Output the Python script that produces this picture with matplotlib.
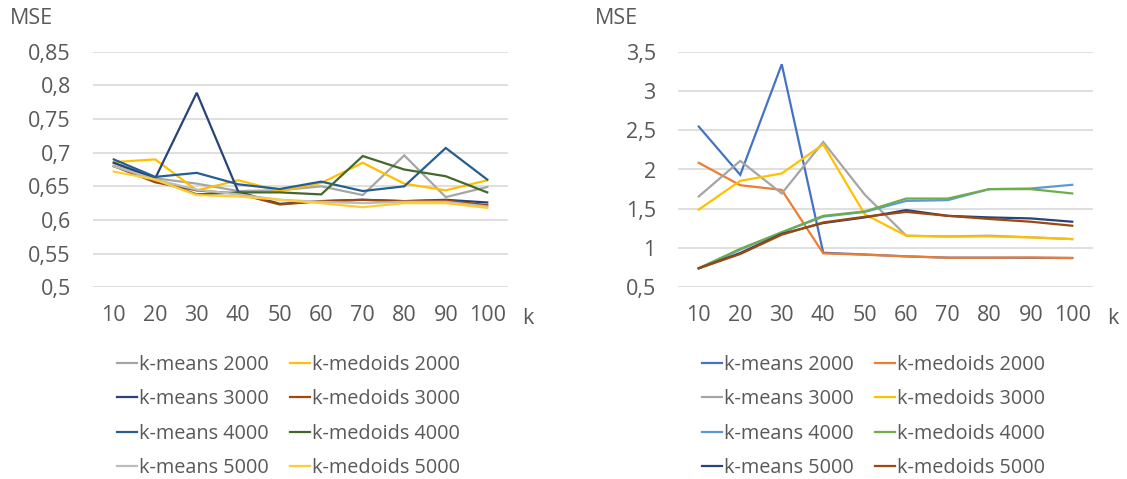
import matplotlib
matplotlib.use("Agg")
import matplotlib.pyplot as plt

plt.rcParams['font.family'] = ['Open Sans', 'DejaVu Sans']

k_values = [10, 20, 30, 40, 50, 60, 70, 80, 90, 100]
k_labels = [str(k) for k in k_values]

# Left panel: MSE per k
left_means_2000 = [0.685, 0.662, 0.654, 0.643, 0.644, 0.650, 0.637, 0.696, 0.634, 0.649]
left_medoids_2000 = [0.686, 0.690, 0.644, 0.659, 0.643, 0.655, 0.685, 0.654, 0.644, 0.659]
left_means_3000 = [0.685, 0.662, 0.789, 0.642, 0.624, 0.628, 0.630, 0.628, 0.630, 0.626]
left_medoids_3000 = [0.680, 0.656, 0.644, 0.639, 0.623, 0.628, 0.630, 0.628, 0.629, 0.622]
left_means_4000 = [0.690, 0.664, 0.670, 0.653, 0.646, 0.657, 0.643, 0.650, 0.707, 0.660]
left_medoids_4000 = [0.680, 0.660, 0.638, 0.641, 0.641, 0.638, 0.695, 0.675, 0.665, 0.641]
left_means_5000 = [0.680, 0.660, 0.645, 0.638, 0.630, 0.627, 0.625, 0.627, 0.627, 0.620]
left_medoids_5000 = [0.672, 0.660, 0.637, 0.635, 0.630, 0.625, 0.619, 0.625, 0.625, 0.618]

# Right panel: MSE per k
right_means_2000 = [2.547, 1.932, 3.340, 0.940, 0.918, 0.894, 0.877, 0.877, 0.875, 0.873]
right_medoids_2000 = [2.085, 1.800, 1.740, 0.932, 0.915, 0.894, 0.877, 0.877, 0.880, 0.873]
right_means_3000 = [1.657, 2.110, 1.695, 2.350, 1.680, 1.157, 1.148, 1.157, 1.136, 1.114]
right_medoids_3000 = [1.490, 1.856, 1.950, 2.320, 1.430, 1.157, 1.144, 1.148, 1.136, 1.114]
right_means_4000 = [0.742, 0.980, 1.200, 1.400, 1.460, 1.600, 1.610, 1.750, 1.758, 1.805]
right_medoids_4000 = [0.742, 0.990, 1.200, 1.410, 1.466, 1.630, 1.630, 1.750, 1.750, 1.695]
right_means_5000 = [0.742, 0.937, 1.180, 1.318, 1.390, 1.483, 1.410, 1.390, 1.377, 1.335]
right_medoids_5000 = [0.742, 0.924, 1.170, 1.326, 1.398, 1.460, 1.410, 1.370, 1.335, 1.284]

series_names = ["k-means 2000", "k-medoids 2000", "k-means 3000", "k-medoids 3000",
                "k-means 4000", "k-medoids 4000", "k-means 5000", "k-medoids 5000"]

left_series = [left_means_2000, left_medoids_2000, left_means_3000, left_medoids_3000,
               left_means_4000, left_medoids_4000, left_means_5000, left_medoids_5000]
left_colors = ["#A5A5A5", "#FFC000", "#264478", "#9E480E",
               "#255E91", "#43682B", "#BDBDBD", "#FFCD33"]

right_series = [right_means_2000, right_medoids_2000, right_means_3000, right_medoids_3000,
                right_means_4000, right_medoids_4000, right_means_5000, right_medoids_5000]
right_colors = ["#4472C4", "#ED7D31", "#A5A5A5", "#FFC000",
                "#5B9BD5", "#70AD47", "#264478", "#9E480E"]

left_ticks = [0.5, 0.55, 0.6, 0.65, 0.7, 0.75, 0.8, 0.85]
right_ticks = [0.5, 1.0, 1.5, 2.0, 2.5, 3.0, 3.5]

TEXT = "#595959"
GRID = "#D9D9D9"
TICK_FS = 15.5
LEG_FS = 14.3

W, H = 1127, 479
fig = plt.figure(figsize=(W / 100, H / 100), dpi=100)


def fmt(v):
    s = ("%.2f" % v).rstrip("0").rstrip(".")
    return s.replace(".", ",")


def panel(left_px, series, colors, yticks, legend_x_px):
    ax = fig.add_axes([left_px / W, 1 - 287.3 / H, 415 / W, (287.3 - 51.7) / H])
    xs = list(range(len(k_values)))
    handles = []
    for vals, col, name in zip(series, colors, series_names):
        ln, = ax.plot(xs, vals, color=col, lw=1.6, label=name, solid_joinstyle="miter")
        handles.append(ln)
    ax.set_xlim(-0.5, len(k_values) - 0.5)
    ax.set_ylim(yticks[0], yticks[-1])
    ax.set_yticks(yticks)
    ax.set_yticklabels([fmt(t) for t in yticks])
    ax.set_xticks(xs)
    ax.set_xticklabels(k_labels)
    ax.tick_params(axis="both", length=0, labelsize=TICK_FS, colors=TEXT)
    ax.tick_params(axis="y", pad=16)
    ax.tick_params(axis="x", pad=13)
    ax.grid(axis="y", color=GRID, lw=1.2)
    ax.set_axisbelow(True)
    for s in ax.spines.values():
        s.set_visible(False)
    # axis titles
    fig.text((left_px - 83) / W, 1 - 19 / H, "MSE", fontsize=TICK_FS, color=TEXT,
             ha="left", va="center")
    fig.text((left_px + 435) / W, 1 - 318 / H, "k", fontsize=TICK_FS, color=TEXT,
             ha="center", va="center")
    # legend: k-means entries in first column, k-medoids in second
    order = [0, 2, 4, 6, 1, 3, 5, 7]
    fig.legend([handles[i] for i in order], [series_names[i] for i in order],
               ncol=2, frameon=False, fontsize=LEG_FS, labelcolor=TEXT,
               loc="upper left",
               bbox_to_anchor=(legend_x_px / W, 1 - 355 / H),
               handlelength=1.0, handletextpad=0.1, columnspacing=1.1,
               labelspacing=0.72, borderaxespad=0, borderpad=0)
    return ax


panel(93, left_series, left_colors, left_ticks, 117)
panel(678, right_series, right_colors, right_ticks, 702)

fig.savefig("out.png", dpi=100, facecolor="white")
